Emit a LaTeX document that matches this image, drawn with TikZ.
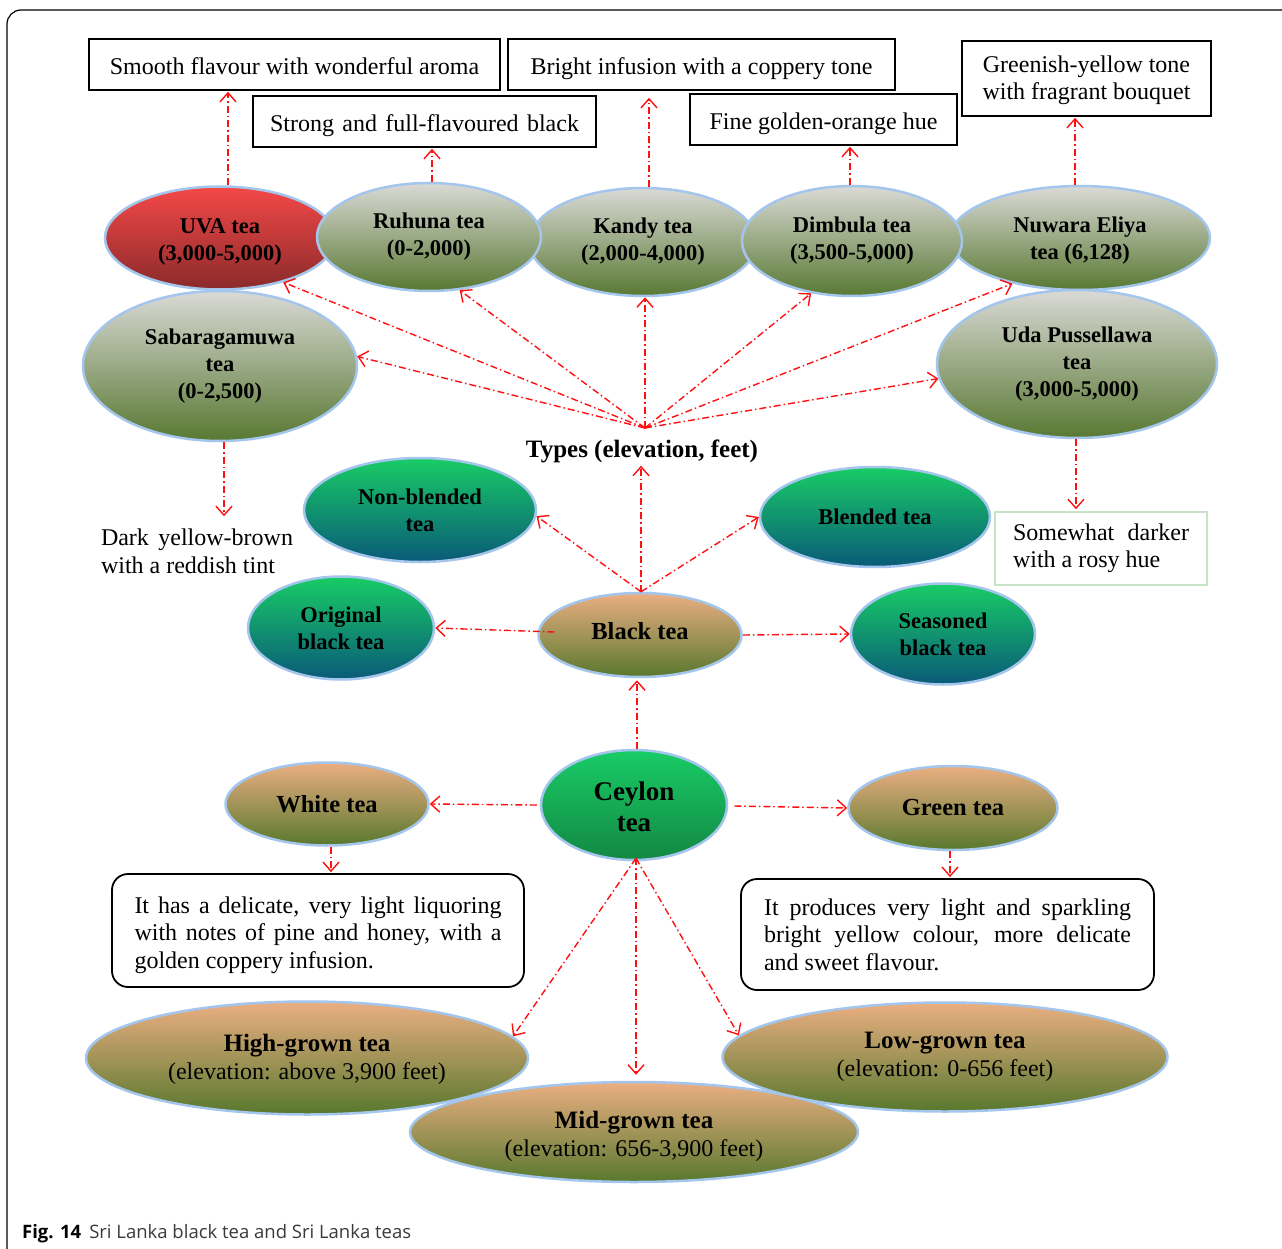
\documentclass[tikz,border=0pt]{standalone}
\usepackage{fontspec}
\setmainfont{Liberation Serif}
\newfontfamily\capfont{Open Sans}
\usetikzlibrary{shapes.geometric,arrows.meta,calc}

\definecolor{ovalline}{HTML}{A4C6EC}
\definecolor{arrred}{HTML}{FF1010}
\definecolor{greytop}{HTML}{DADAD6}
\definecolor{greybot}{HTML}{587832}
\definecolor{redtop}{HTML}{F54848}
\definecolor{redbot}{HTML}{8A2A2A}
\definecolor{tealtop}{HTML}{18CC66}
\definecolor{tealbot}{HTML}{0A5A78}
\definecolor{ceytop}{HTML}{18CC66}
\definecolor{ceybot}{HTML}{138843}
\definecolor{orgtop}{HTML}{EBAF82}
\definecolor{orgbot}{HTML}{58782D}
\definecolor{softgreen}{HTML}{C8E4C8}
\definecolor{captext}{HTML}{3A3A3A}

% one line of box text, its baseline set below the box centre
\newcommand{\boxline}[1]{\raisebox{-10.5pt}[0pt][0pt]{#1}}
% a justified paragraph whose first baseline sits #1 above the box centre
\newcommand{\boxpara}[2]{\raisebox{#1}[0pt][0pt]{\parbox[t]{367pt}{#2}}}

\begin{document}
\begin{tikzpicture}[x=1pt,y=-1pt,
  oval/.style={ellipse, draw=ovalline, line width=2.5pt, inner sep=0pt,
    align=center, font=\fontsize{22.5}{27}\selectfont\bfseries},
  shadegrey/.style={top color=greytop, bottom color=greybot},
  shadered/.style={top color=redtop, bottom color=redbot},
  shadeteal/.style={top color=tealtop, bottom color=tealbot},
  shadeceylon/.style={top color=ceytop, bottom color=ceybot},
  shadeorange/.style={top color=orgtop, bottom color=orgbot},
  notebox/.style={draw=black, line width=1.6pt, inner sep=0pt, align=center,
    font=\fontsize{24}{27}\selectfont},
  roundbox/.style={draw=black, line width=1.8pt, rounded corners=16pt,
    inner sep=0pt, font=\fontsize{24}{27.5}\selectfont},
  link/.style={draw=arrred, line width=1.4pt,
    dash pattern=on 7pt off 3pt on 1.5pt off 3pt,
    -{Straight Barb[length=9pt,width=16pt,line width=1.4pt]}}
]
\useasboundingbox (0,0) rectangle (1282,1249);
\fill[white] (0,0) rectangle (1282,1249);

% outer frame
\draw[line width=1.2pt, rounded corners=14pt] (1282,10) -- (7,10) -- (7,1249);

% text boxes at the top
\node[notebox, minimum width=411pt, minimum height=51pt] (smooth) at (294.5,64.5)
  {\boxline{Smooth flavour with wonderful aroma}};
\node[notebox, minimum width=343pt, minimum height=51pt] (strong) at (424.5,121.5)
  {\boxline{\makebox[309pt][s]{Strong and full-flavoured black}}};
\node[notebox, minimum width=387pt, minimum height=51pt] (bright) at (701.5,64.5)
  {\boxline{Bright infusion with a coppery tone}};
\node[notebox, minimum width=267pt, minimum height=51pt] (fine) at (823.5,119.5)
  {\boxline{Fine golden-orange hue}};
\node[notebox, minimum width=249pt, minimum height=75pt] (greenish) at (1086.5,78.5)
  {\raisebox{5.5pt}[0pt][0pt]{\begin{tabular}[t]{@{}c@{}}Greenish-yellow tone\\with fragrant bouquet\end{tabular}}};

% regional teas
\node[oval, shadered, minimum width=230pt, minimum height=103pt] (uva) at (220,238)
  {\rule{0pt}{22pt}UVA tea\\(3,000-5,000)};
\node[oval, shadegrey, minimum width=227pt, minimum height=108pt] (kandy) at (643,242)
  {Kandy tea\\(2,000-4,000)};
\node[oval, shadegrey, minimum width=224pt, minimum height=108pt] (ruhuna) at (429,237)
  {Ruhuna tea\\(0-2,000)};
\node[oval, shadegrey, minimum width=260pt, minimum height=104pt] (nuwara) at (1080,238)
  {\rule{0pt}{21pt}Nuwara Eliya\\tea (6,128)};
\node[oval, shadegrey, minimum width=220pt, minimum height=110pt] (dimbula) at (852,241)
  {Dimbula tea\\(3,500-5,000)};
\node[oval, shadegrey, minimum width=274pt, minimum height=150pt] (saba) at (220,366)
  {Sabaragamuwa\\tea\\(0-2,500)};
\node[oval, shadegrey, minimum width=280pt, minimum height=148pt] (uda) at (1077,364)
  {Uda Pussellawa\\tea\\(3,000-5,000)};

\node[font=\fontsize{25}{29}\selectfont\bfseries, inner sep=2pt] (types) at (642,451)
  {Types (elevation, feet)};
\coordinate (hub) at (645,428);

\node[inner sep=0pt, text width=192pt, align=justify, font=\fontsize{24}{28}\selectfont]
  (darktext) at (197,551) {Dark yellow-brown\linebreak with a reddish tint};
\node[draw=softgreen, line width=1.5pt, minimum width=212pt, minimum height=73pt,
  inner sep=0pt, text width=176pt, align=justify, font=\fontsize{24}{27}\selectfont]
  (somewhat) at (1101,548.5) {Somewhat darker\linebreak with a rosy hue};

% black tea kinds
\node[oval, shadeteal, minimum width=232pt, minimum height=104pt] (nonblend) at (420,510)
  {Non-blended\\tea};
\node[oval, shadeteal, minimum width=230pt, minimum height=100pt] (blend) at (875,517)
  {Blended tea};
\node[oval, shadeteal, minimum width=186pt, minimum height=103pt] (original) at (341,628)
  {Original\\black tea};
\node[oval, shadeteal, minimum width=184pt, minimum height=101pt] (seasoned) at (943,634)
  {Seasoned\\black tea};
\node[oval, shadeorange, minimum width=203pt, minimum height=84pt,
  font=\fontsize{24.5}{29}\selectfont\bfseries] (black) at (640,635)
  {\rule[-8pt]{0pt}{8pt}Black tea};

% Ceylon tea and its branches
\node[oval, shadeceylon, minimum width=186pt, minimum height=110pt,
  font=\fontsize{27}{31}\selectfont\bfseries] (ceylon) at (634,805)
  {\rule{0pt}{23pt}Ceylon\\tea};
\node[oval, shadeorange, minimum width=203pt, minimum height=83pt,
  font=\fontsize{24.5}{29}\selectfont\bfseries] (white) at (327,804) {White tea};
\node[oval, shadeorange, minimum width=209pt, minimum height=84pt,
  font=\fontsize{24.5}{29}\selectfont\bfseries] (green) at (953,808) {Green tea};

\node[roundbox, minimum width=412pt, minimum height=113pt] (whitebox) at (318,930.5)
  {\boxpara{17.5pt}{It has a delicate, very light liquoring\linebreak with notes of pine and honey, with a\linebreak golden coppery infusion.}};
\node[roundbox, minimum width=413pt, minimum height=111pt] (greenbox) at (947.5,934.5)
  {\boxpara{19.5pt}{It produces very light and sparkling\linebreak bright yellow colour, more delicate\linebreak and sweet flavour.}};

% growing elevations
\node[oval, shadeorange, minimum width=442pt, minimum height=113pt,
  font=\fontsize{24}{28}\selectfont] (high) at (307,1058)
  {\rule{0pt}{21pt}\textbf{\fontsize{25}{28}\selectfont High-grown tea}\\(elevation: above 3,900 feet)};
\node[oval, shadeorange, minimum width=445pt, minimum height=109pt,
  font=\fontsize{24}{28}\selectfont] (low) at (945,1057)
  {\textbf{\fontsize{25}{28}\selectfont Low-grown tea}\\(elevation: 0-656 feet)};
\node[oval, shadeorange, minimum width=448pt, minimum height=100pt,
  font=\fontsize{24}{28}\selectfont] (mid) at (634,1132)
  {\rule{0pt}{27pt}\textbf{\fontsize{25}{28}\selectfont Mid-grown tea}\\(elevation: 656-3,900 feet)};

% connectors: regions to descriptions
\draw[link] ($(uva.north)+(8,0)$) -- ($(smooth.south -| uva.north)+(8,1)$);
\draw[link] ($(ruhuna.north)+(3,0)$) -- ($(strong.south -| ruhuna.north)+(3,1)$);
\draw[link] ($(kandy.north)+(6,0)$) -- ($(bright.south -| kandy.north)+(6,7)$);
\draw[link] ($(dimbula.north)+(-2,0)$) -- ($(fine.south -| dimbula.north)+(-2,1)$);
\draw[link] ($(nuwara.north)+(-5,0)$) -- ($(greenish.south -| nuwara.north)+(-5,1)$);
\draw[link] ($(saba.south)+(4,0)$) -- ($(saba.south)+(4,74)$);
\draw[link] ($(uda.south)+(-1,0)$) -- ($(somewhat.north -| uda.south)+(-1,-2)$);

% connectors: types to regions
\draw[link] (hub) -- (uva.-35);
\draw[link] (hub) -- (ruhuna.-60);
\draw[link] (hub) -- ($(kandy.south)+(2,0)$);
\draw[link] (hub) -- (dimbula.-128);
\draw[link] (hub) -- (nuwara.-146);
\draw[link] (hub) -- (saba.4);
\draw[link] (hub) -- (uda.186);

% connectors: black tea
\coordinate (btop) at ($(black.north)+(1,0)$);
\draw[link] (btop) -- ($(types.south -| btop)+(0,1)$);
\draw[link] (btop) -- (nonblend.-3);
\draw[link] (btop) -- (blend.west);
\draw[link] ($(black.west)+(17,-3)$) -- (original.east);
\draw[link] (black.east) -- (seasoned.west);

% connectors: Ceylon tea
\draw[link] ($(ceylon.north)+(3,0)$) -- ($(black.south -| ceylon.north)+(3,2)$);
\draw[link] ($(ceylon.west)+(-3,0)$) -- (white.east);
\draw[link] ($(ceylon.east)+(6,1)$) -- (green.west);
\draw[link] ($(white.south)+(4,0)$) -- ($(whitebox.north -| white.south)+(4,-1)$);
\draw[link] ($(green.south)+(-3,0)$) -- ($(greenbox.north -| green.south)+(-3,-1)$);
\draw[link] ($(ceylon.south)+(2,-3)$) -- (high.6);
\draw[link] ($(ceylon.south)+(2,-3)$) -- ($(mid.north)+(2,-6)$);
\draw[link] ($(ceylon.south)+(2,-3)$) -- (low.174);

% caption
\node[anchor=base west, inner sep=0pt, font=\capfont\fontsize{18.5}{22}\selectfont,
  text=captext] (caption) at (22,1238)
  {\textcolor{black}{\textbf{Fig. 14}}\hspace{8pt}Sri Lanka black tea and Sri Lanka teas};
\end{tikzpicture}
\end{document}
